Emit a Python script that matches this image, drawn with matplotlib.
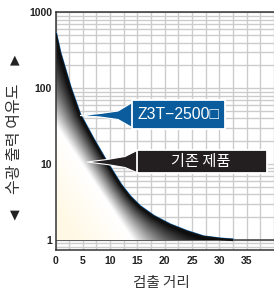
import numpy as np
import matplotlib
matplotlib.use("Agg")
import matplotlib.pyplot as plt
from matplotlib.patches import Polygon, Rectangle
import matplotlib.transforms as mtransforms

# ---- data ----
z3t_x = [0, 0.8, 2.7, 4.4, 6.9, 9.4, 11.9, 13.6, 15.4, 17.9, 20.9, 24.0, 27.0, 30.1, 32.5]
z3t_y = [530, 290, 100, 45, 21, 10.3, 5.3, 3.7, 2.75, 2.05, 1.58, 1.29, 1.1, 1.03, 1.0]
old_x = [0, 7, 14]
old_y = [32, 5.7, 1]
x_ticks = [0, 5, 10, 15, 20, 25, 30, 35]
y_ticks = [1, 10, 100, 1000]
y_ticklabels = ["1", "10", "100", "1000"]
label_z3t = "Z3T\u22122500\u25a1"
label_old = "기존 제품"
xlabel = "검출 거리"
ylabel = "수광 출력 여유도"

W, H = 274, 298
fig = plt.figure(figsize=(W / 100, H / 100), dpi=100)

def fx(x):
    return x / W

def fy(y):
    return 1 - y / H

ax_left, ax_top, ax_bottom = 55.5, 12.3, 250.0
ax = fig.add_axes([fx(ax_left), fy(ax_bottom), (W - ax_left) / W, (ax_bottom - ax_top) / H])
ylow = 10 ** (-10 / 75.9)
ax.set_xlim(0, 40)
ax.set_ylim(ylow, 1000)
ax.set_yscale("log")

# grid
ax.set_axisbelow(True)
ax.set_xticks(np.arange(0, 40.1, 2.5), minor=True)
ax.xaxis.grid(True, which="both", color="#cccccc", lw=1.0)
ax.yaxis.grid(True, which="both", color="#cccccc", lw=1.0)
ax.set_xticks(x_ticks)
ax.set_xticklabels([str(v) for v in x_ticks])
ax.set_yticks(y_ticks)
ax.set_yticklabels(y_ticklabels)
ax.tick_params(axis="both", which="both", length=0)
ax.tick_params(axis="x", pad=4)
ax.tick_params(axis="y", pad=2.5)
for lab in ax.get_xticklabels() + ax.get_yticklabels():
    lab.set_fontfamily("Liberation Sans")
    lab.set_fontweight("bold")
    lab.set_fontsize(7.5)
    lab.set_color("#222222")
for s in ["left", "bottom", "top"]:
    ax.spines[s].set_color("#333333")
    ax.spines[s].set_linewidth(1.1)
ax.spines["right"].set_visible(False)

# y=1 base line
ax.axhline(1, color="#4a4a4a", lw=1.2, zorder=1.5)

# ---- gradient image ----
xmin, xmax = 0, 40
lmin, lmax = np.log10(ylow), 3.0
ppx = (W - ax_left) / (xmax - xmin)
ppy = (ax_bottom - ax_top) / (lmax - lmin)
nx, ny = 440, 480
gx = np.linspace(xmin, xmax, nx)
gl = np.linspace(lmax, lmin, ny)
GX, GL = np.meshgrid(gx, gl)
PX, PY = GX * ppx, GL * ppy

cx = np.array(z3t_x) * ppx
cy = np.log10(np.array(z3t_y)) * ppy
d1 = np.full(PX.shape, 1e9)
for i in range(len(cx) - 1):
    ax0, ay0, bx0, by0 = cx[i], cy[i], cx[i + 1], cy[i + 1]
    vx, vy = bx0 - ax0, by0 - ay0
    tt = np.clip(((PX - ax0) * vx + (PY - ay0) * vy) / (vx * vx + vy * vy), 0, 1)
    dd = np.hypot(PX - (ax0 + tt * vx), PY - (ay0 + tt * vy))
    d1 = np.minimum(d1, dd)

Ax, Ay = old_x[0] * ppx, np.log10(old_y[0]) * ppy
Bx, By = old_x[-1] * ppx, np.log10(old_y[-1]) * ppy
vx, vy = Bx - Ax, By - Ay
s = (vx * (PY - Ay) - vy * (PX - Ax)) / np.hypot(vx, vy)  # positive above/right of line
d2 = np.maximum(s, 0)
t = d2 / (d1 + d2 + 1e-9)
g = 1 - t ** 1.1
rgb = np.stack([g, g, g], axis=-1)
cream = np.array([1.0, 0.976, 0.90])
w = np.clip(-s / 45.0, 0, 1)[..., None]
below = (s < 0)[..., None]
cream_rgb = (1 - w) * np.array([1.0, 1.0, 1.0]) + w * cream
rgb = np.where(below, cream_rgb, rgb)

im = ax.imshow(rgb, extent=[0, 1, 0, 1], transform=ax.transAxes, aspect="auto",
               origin="upper", zorder=2, interpolation="bilinear")
clip_pts = np.column_stack([z3t_x + [z3t_x[-1], z3t_x[0]], z3t_y + [1, 1]])
clip_poly = Polygon(clip_pts, closed=True, transform=ax.transData, facecolor="none", edgecolor="none")
ax.add_patch(clip_poly)
im.set_clip_path(clip_poly)
ax.set_xlim(xmin, xmax)
ax.set_ylim(ylow, 1000)

# Z3T curve with blue edge
off = mtransforms.offset_copy(ax.transData, fig=fig, x=0.8, y=0.8, units="dots")
ax.plot(z3t_x, z3t_y, color="#1f74c0", lw=1.0, transform=off, zorder=3, solid_capstyle="butt")
ax.plot(z3t_x, z3t_y, color="#111111", lw=1.7, zorder=4, solid_capstyle="butt")

# ---- callouts (figure pixel coordinates) ----
def poly_px(pts, fc, zorder=10):
    p = Polygon([(fx(a), fy(b)) for a, b in pts], closed=True, transform=fig.transFigure,
                facecolor=fc, edgecolor="white", lw=0.8, zorder=zorder)
    fig.patches.append(p)

def rect_px(x0, y0, x1, y1, fc, zorder=11):
    r = Rectangle((fx(x0), fy(y1)), (x1 - x0) / W, (y1 - y0) / H, transform=fig.transFigure,
                  facecolor=fc, edgecolor="white", lw=1.3, zorder=zorder)
    fig.patches.append(r)

blue = "#0b5c9c"
poly_px([(80, 115.5), (100, 113.5), (118, 111), (133, 102), (133, 128), (118, 119.5), (100, 117)], blue)
rect_px(132, 100, 225, 129, blue)
fig.text(fx(178.5), fy(114.8), label_z3t, color="white", fontsize=11.3, ha="center", va="center",
         family=["Liberation Sans", "DejaVu Sans"], zorder=12)

dark = "#231f20"
poly_px([(87, 162), (107, 159.5), (125, 156.5), (138, 150), (138, 173), (125, 167.5), (107, 164.5)], dark)
rect_px(137, 150, 267, 173, dark)
fig.text(fx(201), fy(161.5), label_old, color="white", fontsize=11, ha="center", va="center",
         family=["Noto Sans CJK KR", "DejaVu Sans"], zorder=12)

# axis labels
fig.text(fx(161.5), fy(283), xlabel, fontsize=10.5, ha="center", va="center", color="#333333",
         family=["Noto Sans CJK KR", "DejaVu Sans"])
fig.text(fx(14.5), fy(139), ylabel, fontsize=11.5, ha="center", va="center", color="#333333",
         rotation=90, family=["Noto Sans CJK KR", "DejaVu Sans"])
fig.text(fx(15), fy(60), "\u25b2", fontsize=9, ha="center", va="center", color="#222222",
         family=["DejaVu Sans"])
fig.text(fx(14.5), fy(215), "\u25bc", fontsize=9, ha="center", va="center", color="#222222",
         family=["DejaVu Sans"])

fig.savefig("out.png", dpi=100)
